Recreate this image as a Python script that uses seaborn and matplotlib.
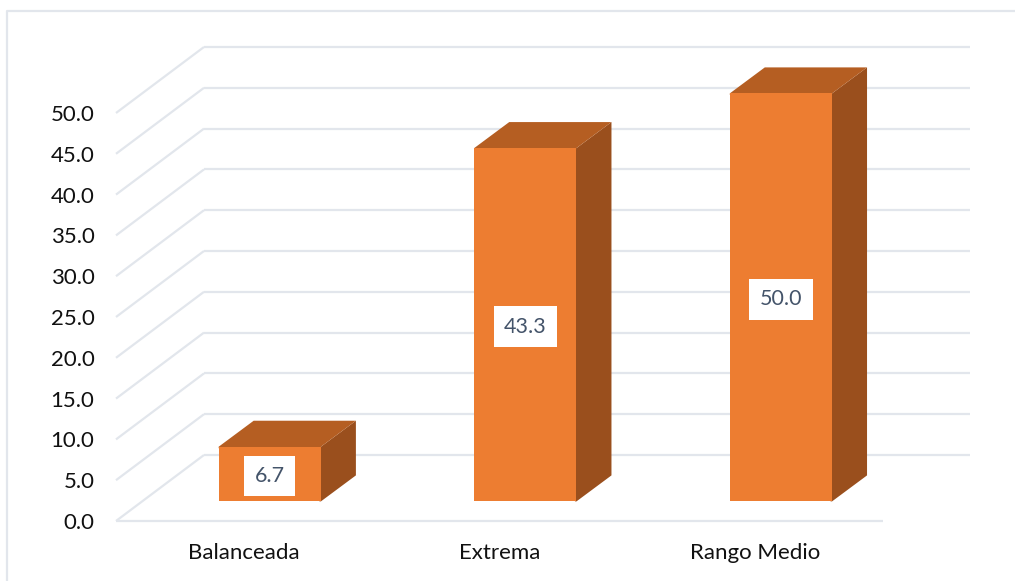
import numpy as np
import pandas as pd
import matplotlib
matplotlib.use("Agg")
import matplotlib.pyplot as plt
import seaborn as sns
from matplotlib.lines import Line2D
from matplotlib.patches import Polygon
from matplotlib.transforms import Affine2D

categories = ["Balanceada", "Extrema", "Rango Medio"]
values = [6.7, 43.3, 50.0]
value_labels = ["6.7", "43.3", "50.0"]
y_ticks = [0, 5, 10, 15, 20, 25, 30, 35, 40, 45, 50]

W, H = 1015, 581
FRONT, TOP, SIDE = "#ED7D31", "#B55E22", "#9A4F1D"
GRID = "#E2E6EC"
TEXT = "#111111"
LABEL = "#44546A"
FONT = "Lato"

sns.set_theme(style="white")
plt.rcParams["font.family"] = [FONT, "DejaVu Sans"]

fig = plt.figure(figsize=(W / 100, H / 100), dpi=100, facecolor="white")
L, R, B, T = 116, 882.7, 521, 113
ax = fig.add_axes([L / W, 1 - B / H, (R - L) / W, (B - T) / H])

df = pd.DataFrame({"cat": categories, "val": values})
sns.barplot(data=df, x="cat", y="val", color=FRONT, saturation=1, width=0.4, ax=ax, zorder=3.2)
ax.set_xlim(-0.5, 2.5)
ax.set_ylim(0, 50)
ax.set_xlabel("")
ax.set_ylabel("")
for s in ax.spines.values():
    s.set_visible(False)

# pixel-to-data scales
px = 3 / (R - L)
py = 50 / (B - T)

# walls: diagonal side lines and back lines
wall_dx, wall_dy = 88 * px, 66 * py
back_right = (969.5 - L) * px - 0.5
for v in y_ticks:
    ax.plot([-0.5, -0.5 + wall_dx], [v, v + wall_dy], color=GRID, lw=1.6, clip_on=False, zorder=1,
            solid_capstyle="butt")
    ax.plot([-0.5 + wall_dx, back_right], [v + wall_dy, v + wall_dy], color=GRID, lw=1.6, clip_on=False,
            zorder=1, solid_capstyle="butt")
ax.plot([-0.5, 2.5], [0, 0], color=GRID, lw=1.6, clip_on=False, zorder=1, solid_capstyle="butt")

# bars: shift into the floor, add side and top faces
shift = Affine2D().translate(26 * px, 19.6 * py) + ax.transData
bar_dx, bar_dy = 35 * px, 26 * py
overlap = 1.5 * px
for patch, v, lab in zip(ax.patches, values, value_labels):
    x0, w = patch.get_x(), patch.get_width()
    patch.set_transform(shift)
    patch.set_clip_on(False)
    patch.set_edgecolor("none")
    side = [(x0 + w - overlap, 0), (x0 + w, 0), (x0 + w + bar_dx, bar_dy), (x0 + w + bar_dx, v + bar_dy),
            (x0 + w, v), (x0 + w - overlap, v)]
    top = [(x0, v - 1.5 * py), (x0, v), (x0 + bar_dx, v + bar_dy), (x0 + w + bar_dx, v + bar_dy), (x0 + w, v),
           (x0 + w, v - 1.5 * py)]
    ax.add_patch(Polygon(side, closed=True, fc=SIDE, ec="none", transform=shift, clip_on=False, zorder=3))
    ax.add_patch(Polygon(top, closed=True, fc=TOP, ec="none", transform=shift, clip_on=False, zorder=3.1))
    ax.text(x0 + w / 2, v / 2, lab, transform=shift, ha="center", va="center_baseline", color=LABEL,
            fontsize=15.5, zorder=5, bbox=dict(boxstyle="square,pad=0.48", fc="white", ec="none"))

ax.set_yticks(y_ticks)
ax.set_yticklabels([f"{v:.1f}" for v in y_ticks])
ax.tick_params(axis="y", length=0, pad=15.5, labelsize=16, labelcolor=TEXT)
ax.tick_params(axis="x", length=0, pad=15.5, labelsize=16, labelcolor=TEXT)

# outer frame (top and left only)
fig.add_artist(Line2D([6.5 / W, 6.5 / W, 1], [0, 1 - 11 / H, 1 - 11 / H], color=GRID, lw=1.6,
                      transform=fig.transFigure))

fig.savefig("out.png", dpi=100, facecolor="white")
